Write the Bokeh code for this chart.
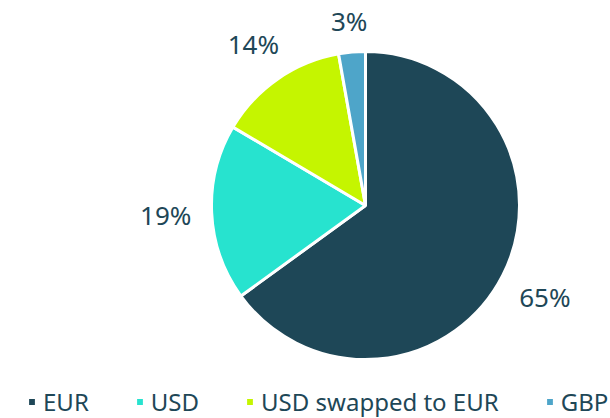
import numpy as np
from bokeh.plotting import figure
from bokeh.models import ColumnDataSource, Range1d, Legend, LegendItem
from bokeh.core.properties import value
from bokeh.embed import file_html
from bokeh.resources import INLINE

# ---- data ----
categories = ["EUR", "USD", "USD swapped to EUR", "GBP"]
shares = [65.0, 18.5, 13.7, 2.8]
labels = ["65%", "19%", "14%", "3%"]
colors = ["#1e4757", "#27e3cf", "#c5f500", "#4ea5c9"]

TEXT_COLOR = "#1e4757"
FONT = "Noto Sans"

W, H = 610, 418
cx, cy, R = 365, 213, 154

frac = np.array(shares) / sum(shares)
cum = np.concatenate([[0.0], np.cumsum(frac)])
start = np.pi / 2 - 2 * np.pi * cum[:-1]
end = np.pi / 2 - 2 * np.pi * cum[1:]
mid = (start + end) / 2
dx, dy = np.cos(mid), np.sin(mid)
hw = np.array([len(s) for s in labels]) * 8.5
hh = 10.0
dist = R + 20 + hw * np.abs(dx) + hh * np.abs(dy)
lx = cx + dist * dx
ly = cy + dist * dy

src = ColumnDataSource(dict(cat=categories, start=start, end=end, color=colors,
                            lx=lx, ly=ly, label=labels))

p = figure(width=W, height=H, output_backend="svg", toolbar_location=None,
           x_range=Range1d(0, W), y_range=Range1d(0, H), min_border=0)
p.axis.visible = False
p.grid.visible = False
p.outline_line_color = None
p.background_fill_color = "white"
p.border_fill_color = "white"

w = p.wedge(x=cx, y=cy, radius=R, start_angle="start", end_angle="end",
            direction="clock", fill_color="color", line_color="white",
            line_width=3, source=src)

p.text(x="lx", y="ly", text="label", source=src, text_align="center",
       text_baseline="middle", text_color=TEXT_COLOR,
       text_font=value(FONT), text_font_size=value("26px"))

items = [LegendItem(label=c, renderers=[w], index=i) for i, c in enumerate(categories)]
legend = Legend(items=items, orientation="horizontal", location=(26, 0),
                glyph_width=11, glyph_height=11, label_standoff=6, spacing=45,
                padding=0, margin=0, border_line_alpha=0, background_fill_alpha=0,
                label_text_font=FONT, label_text_font_size="24px",
                label_text_color=TEXT_COLOR)
p.add_layout(legend)

open("out.html", "w").write(file_html(p, INLINE))
